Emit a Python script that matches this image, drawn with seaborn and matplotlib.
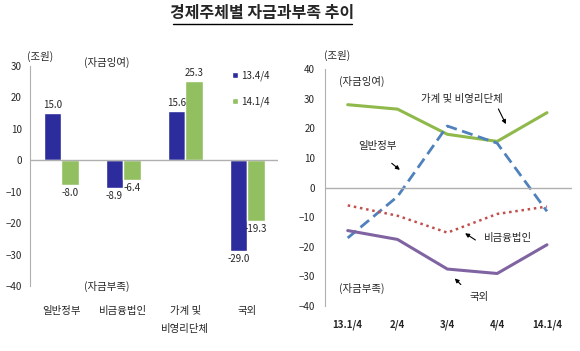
import pandas as pd
import seaborn as sns
import matplotlib.pyplot as plt

# Data
sectors = ['일반정부', '비금융법인', '가계 및\n비영리단체', '국외']
q_134 = [15.0, -8.9, 15.6, -29.0]
q_141 = [-8.0, -6.4, 25.3, -19.3]
periods = ['13.4/4', '14.1/4']

quarters = ['13.1/4', '2/4', '3/4', '4/4', '14.1/4']
gov = [-17.0, -3.0, 20.8, 15.0, -8.0]
corp = [-6.0, -9.5, -15.2, -8.9, -6.4]
house = [28.0, 26.5, 18.0, 15.6, 25.3]
foreign = [-14.5, -17.5, -27.5, -29.0, -19.3]

sns.set_style('white')
plt.rcParams['font.family'] = ['Noto Sans CJK KR', 'DejaVu Sans']

bar_df = pd.DataFrame({
    'sector': sectors * 2,
    'value': q_134 + q_141,
    'period': [periods[0]] * 4 + [periods[1]] * 4,
})

line_df = pd.DataFrame({
    'quarter': quarters * 4,
    'value': gov + corp + house + foreign,
    'series': ['gov'] * 5 + ['corp'] * 5 + ['house'] * 5 + ['foreign'] * 5,
})

fig = plt.figure(figsize=(5.8, 3.51), dpi=100)
fig.text(0.452, 0.962, '경제주체별 자금과부족 추이', ha='center', va='center',
         fontsize=11.5, fontweight='bold')
fig.add_artist(plt.Line2D([0.298, 0.607], [0.932, 0.932], color='black', lw=1.0))

# Left: bar chart
ax1 = fig.add_axes([0.052, 0.185, 0.428, 0.627])
sns.barplot(data=bar_df, x='sector', y='value', hue='period',
            palette=['#1A1AAE', '#92D050'], width=0.57, ax=ax1)
for cont in ax1.containers:
    ax1.bar_label(cont, fmt='%.1f', padding=2, fontsize=7)
ax1.set_ylim(-40, 30)
ax1.set_xlim(-0.5, 3.5)
ax1.set_yticks(range(-40, 31, 10))
ax1.axhline(0, color='#b0b0b0', lw=1)
ax1.set_xlabel('')
ax1.set_ylabel('')
for s in ['top', 'right', 'bottom']:
    ax1.spines[s].set_visible(False)
ax1.spines['left'].set_color('#b0b0b0')
ax1.tick_params(length=0, labelsize=7, pad=6)
ax1.tick_params(axis='x', pad=14, labelsize=7.5)
for lbl in ax1.get_xticklabels():
    lbl.set_linespacing(2.0)
    lbl.set_va('top')
ax1.legend(loc='upper right', bbox_to_anchor=(1.0, 1.02), frameon=False,
           fontsize=7, handlelength=0.6, handleheight=0.6, labelspacing=1.6,
           handletextpad=0.3)
ax1.text(-0.34, 33, '(조원)', fontsize=7.5, ha='center', va='center')
ax1.text(0.74, 31, '(자금잉여)', fontsize=7.5, ha='center', va='center')
ax1.text(0.74, -40, '(자금부족)', fontsize=7.5, ha='center', va='center')

# Right: line chart
ax2 = fig.add_axes([0.560, 0.128, 0.426, 0.675])
styles = {
    'house': dict(color='#8FB94B', linestyle='-', lw=2.2),
    'gov': dict(color='#4F81BD', linestyle=(0, (4, 2)), lw=2.0),
    'corp': dict(color='#C0504D', linestyle=(0, (1, 1.5)), lw=1.8),
    'foreign': dict(color='#8064A2', linestyle='-', lw=2.2),
}
for name, st in styles.items():
    sns.lineplot(data=line_df[line_df['series'] == name], x='quarter', y='value',
                 sort=False, ax=ax2, **st)
ax2.set_ylim(-40, 40)
ax2.set_xlim(-0.46, 4.5)
ax2.set_yticks(range(-40, 41, 10))
ax2.axhline(0, color='#b0b0b0', lw=1)
ax2.set_xlabel('')
ax2.set_ylabel('')
for s in ['top', 'right', 'bottom']:
    ax2.spines[s].set_visible(False)
ax2.spines['left'].set_color('#b0b0b0')
ax2.tick_params(length=0, labelsize=7, pad=7)
ax2.tick_params(axis='x', pad=10, labelsize=7)
for lbl in ax2.get_xticklabels():
    lbl.set_fontweight('bold')
ax2.text(-0.22, 44.5, '(조원)', fontsize=7.5, ha='center', va='center')
ax2.text(0.28, 36, '(자금잉여)', fontsize=7.5, ha='center', va='center')
ax2.text(0.28, -34, '(자금부족)', fontsize=7.5, ha='center', va='center')

arrow = dict(arrowstyle='-|>', color='black', lw=0.8, mutation_scale=6)
ax2.text(2.3, 30, '가계 및 비영리단체', fontsize=7.5, ha='center', va='center')
ax2.annotate('', xy=(3.2, 20.6), xytext=(3.0, 27.4), arrowprops=arrow)
ax2.text(0.6, 14, '일반정부', fontsize=7.5, ha='center', va='center')
ax2.annotate('', xy=(1.09, 5.4), xytext=(0.84, 8.8), arrowprops=arrow)
ax2.text(3.22, -16.9, '비금융법인', fontsize=7.5, ha='center', va='center')
ax2.annotate('', xy=(2.31, -14.9), xytext=(2.61, -18.2), arrowprops=arrow)
ax2.text(2.63, -36.8, '국외', fontsize=7.5, ha='center', va='center')
ax2.annotate('', xy=(2.11, -30.0), xytext=(2.31, -33.4), arrowprops=arrow)

fig.savefig('out.png', dpi=100)
